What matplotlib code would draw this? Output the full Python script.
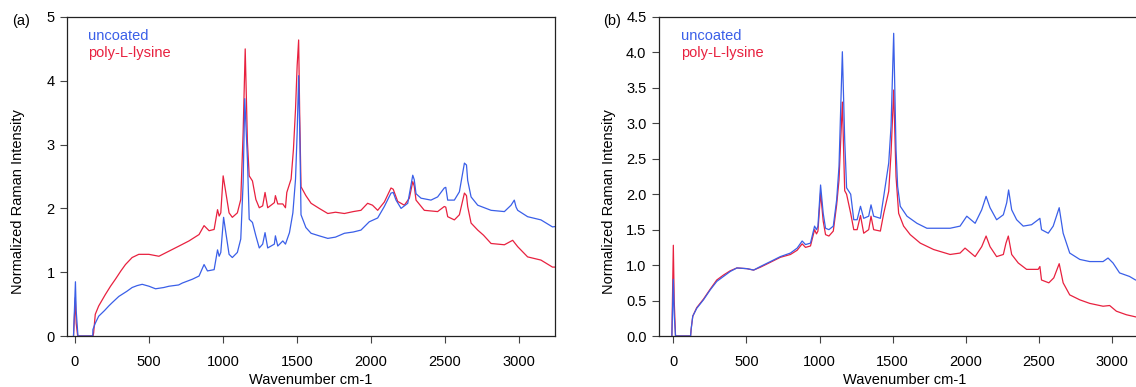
import matplotlib
matplotlib.use("Agg")
import matplotlib.pyplot as plt
import numpy as np

plt.rcParams['font.family'] = ['Liberation Sans', 'DejaVu Sans']
plt.rcParams['font.size'] = 10

BLUE = '#3a5fe8'
RED = '#e8213f'

# (wavenumber, normalized intensity), panel (a)
a_uncoated = [
    (-10, 0), (3, 0.85), (8, 0.4), (20, 0), (120, 0), (121, 0.1), (137, 0.2),
    (160, 0.31), (200, 0.4), (228, 0.47), (250, 0.52), (296, 0.62), (350, 0.7),
    (386, 0.76), (420, 0.79), (454, 0.81), (500, 0.78), (544, 0.74), (600, 0.76),
    (635, 0.78), (700, 0.8), (725, 0.83), (793, 0.89), (838, 0.94), (872, 1.12),
    (895, 1.02), (940, 1.04), (963, 1.35), (974, 1.25), (985, 1.31), (1004, 1.86),
    (1019, 1.62), (1041, 1.28), (1063, 1.23), (1097, 1.31), (1120, 1.52),
    (1136, 2.41), (1147, 3.72), (1165, 2.77), (1177, 1.83), (1199, 1.78),
    (1222, 1.57), (1245, 1.38), (1268, 1.44), (1284, 1.62), (1302, 1.38),
    (1347, 1.44), (1354, 1.57), (1370, 1.41), (1404, 1.49), (1422, 1.44),
    (1449, 1.62), (1472, 1.93), (1490, 2.46), (1501, 3.19), (1511, 4.08),
    (1520, 3.0), (1527, 1.9), (1560, 1.7), (1595, 1.61), (1650, 1.57),
    (1708, 1.53), (1760, 1.55), (1820, 1.61), (1880, 1.63), (1932, 1.66),
    (1988, 1.79), (2045, 1.85), (2090, 2.03), (2135, 2.24), (2150, 2.25),
    (2169, 2.13), (2203, 2.0), (2248, 2.08), (2282, 2.52), (2292, 2.45),
    (2304, 2.23), (2338, 2.16), (2405, 2.13), (2450, 2.18), (2495, 2.32),
    (2505, 2.33), (2518, 2.13), (2563, 2.13), (2597, 2.26), (2631, 2.71),
    (2645, 2.68), (2653, 2.44), (2676, 2.18), (2721, 2.05), (2811, 1.97),
    (2901, 1.95), (2946, 2.05), (2968, 2.13), (2980, 2.02), (2991, 1.97),
    (3058, 1.87), (3148, 1.82), (3226, 1.71), (3260, 1.72),
]

a_polylysine = [
    (-10, 0), (2, 0.6), (8, 0.2), (18, 0), (122, 0), (126, 0.05), (137, 0.34),
    (160, 0.47), (205, 0.65), (240, 0.78), (273, 0.89), (310, 1.02), (341, 1.12),
    (386, 1.23), (431, 1.28), (499, 1.28), (567, 1.25), (635, 1.33), (703, 1.41),
    (770, 1.49), (838, 1.59), (872, 1.73), (906, 1.65), (940, 1.67), (963, 1.98),
    (974, 1.88), (985, 1.93), (1001, 2.51), (1019, 2.25), (1041, 1.93),
    (1063, 1.86), (1097, 1.93), (1120, 2.14), (1136, 3.19), (1150, 4.5),
    (1165, 3.04), (1177, 2.51), (1199, 2.43), (1222, 2.14), (1245, 2.01),
    (1268, 2.04), (1284, 2.25), (1302, 2.01), (1347, 2.09), (1354, 2.2),
    (1370, 2.07), (1404, 2.07), (1422, 2.01), (1431, 2.25), (1460, 2.46),
    (1476, 2.93), (1490, 3.56), (1501, 4.24), (1511, 4.64), (1518, 3.5),
    (1527, 2.34), (1560, 2.2), (1595, 2.08), (1650, 2.0), (1708, 1.92),
    (1760, 1.94), (1820, 1.92), (1880, 1.95), (1932, 1.97), (1977, 2.08),
    (2010, 2.05), (2045, 1.97), (2090, 2.1), (2135, 2.32), (2150, 2.3),
    (2180, 2.11), (2225, 2.05), (2259, 2.16), (2282, 2.42), (2292, 2.35),
    (2304, 2.13), (2360, 1.97), (2450, 1.95), (2495, 2.03), (2505, 2.02),
    (2518, 1.87), (2563, 1.82), (2597, 1.9), (2631, 2.24), (2645, 2.2),
    (2653, 2.03), (2676, 1.77), (2721, 1.66), (2760, 1.58), (2811, 1.45),
    (2901, 1.43), (2957, 1.5), (2991, 1.4), (3058, 1.24), (3148, 1.19),
    (3226, 1.08), (3260, 1.08),
]

# panel (b)
b_uncoated = [
    (-10, 0), (0, 0.8), (6, 0.3), (15, 0), (118, 0), (122, 0.1), (133, 0.28),
    (160, 0.39), (206, 0.51), (252, 0.65), (297, 0.77), (343, 0.84), (389, 0.91),
    (435, 0.96), (503, 0.95), (549, 0.93), (595, 0.98), (664, 1.05), (732, 1.12),
    (801, 1.17), (847, 1.24), (881, 1.34), (904, 1.29), (938, 1.31), (966, 1.55),
    (979, 1.5), (989, 1.55), (1007, 2.13), (1025, 1.73), (1041, 1.52),
    (1064, 1.5), (1094, 1.55), (1117, 1.92), (1133, 2.39), (1156, 4.01),
    (1172, 2.77), (1185, 2.09), (1213, 2.0), (1234, 1.64), (1257, 1.64),
    (1280, 1.83), (1302, 1.66), (1336, 1.69), (1352, 1.85), (1370, 1.69),
    (1416, 1.66), (1439, 1.97), (1473, 2.44), (1489, 2.96), (1507, 4.27),
    (1523, 2.63), (1534, 2.11), (1552, 1.83), (1598, 1.69), (1666, 1.59),
    (1734, 1.52), (1802, 1.52), (1893, 1.52), (1961, 1.55), (2007, 1.69),
    (2064, 1.59), (2109, 1.78), (2139, 1.97), (2166, 1.81), (2211, 1.64),
    (2257, 1.71), (2280, 1.88), (2293, 2.06), (2314, 1.78), (2348, 1.64),
    (2393, 1.55), (2450, 1.57), (2495, 1.64), (2507, 1.66), (2518, 1.5),
    (2564, 1.45), (2598, 1.55), (2639, 1.81), (2666, 1.45), (2711, 1.17),
    (2780, 1.08), (2848, 1.05), (2939, 1.05), (2973, 1.1), (3007, 1.03),
    (3052, 0.89), (3120, 0.84), (3161, 0.79), (3200, 0.78),
]

b_polylysine = [
    (-10, 0), (0, 1.28), (6, 0.5), (15, 0), (118, 0), (122, 0.1), (133, 0.28),
    (160, 0.4), (206, 0.52), (252, 0.66), (297, 0.79), (343, 0.86), (389, 0.92),
    (435, 0.96), (503, 0.95), (549, 0.93), (595, 0.97), (664, 1.04), (732, 1.11),
    (801, 1.15), (847, 1.21), (881, 1.3), (904, 1.25), (938, 1.27), (966, 1.5),
    (979, 1.44), (989, 1.48), (1007, 2.02), (1025, 1.62), (1041, 1.43),
    (1064, 1.41), (1094, 1.48), (1117, 1.85), (1133, 2.2), (1156, 3.3),
    (1172, 2.05), (1185, 2.0), (1213, 1.73), (1234, 1.5), (1257, 1.5),
    (1280, 1.7), (1302, 1.45), (1336, 1.5), (1352, 1.69), (1370, 1.5),
    (1416, 1.48), (1439, 1.73), (1473, 2.04), (1489, 2.58), (1507, 3.47),
    (1523, 2.25), (1541, 1.73), (1575, 1.55), (1620, 1.43), (1689, 1.31),
    (1780, 1.22), (1893, 1.15), (1961, 1.17), (1995, 1.24), (2064, 1.12),
    (2109, 1.26), (2139, 1.41), (2166, 1.26), (2211, 1.12), (2257, 1.15),
    (2275, 1.31), (2291, 1.41), (2314, 1.15), (2359, 1.03), (2416, 0.94),
    (2495, 0.94), (2507, 0.98), (2518, 0.79), (2568, 0.75), (2602, 0.82),
    (2639, 1.02), (2666, 0.75), (2711, 0.58), (2780, 0.51), (2848, 0.46),
    (2939, 0.42), (2984, 0.43), (3030, 0.35), (3098, 0.3), (3161, 0.27),
    (3200, 0.26),
]

x_ticks = [0, 500, 1000, 1500, 2000, 2500, 3000]
a_yticks = [0, 1, 2, 3, 4, 5]
b_yticks = [0.0, 0.5, 1.0, 1.5, 2.0, 2.5, 3.0, 3.5, 4.0, 4.5]

W, H = 1136, 387


def make_axes(fig, left, right, top, bottom):
    """Axes placed in pixel coordinates of the figure."""
    return fig.add_axes([left / W, 1 - bottom / H, (right - left) / W, (bottom - top) / H])


def draw_panel(ax, uncoated, polylysine, xlim, ylim, yticks, yfmt, tag):
    """Draw one spectrum panel in the R base-graphics look."""
    xr, yr = np.array(polylysine).T
    xb, yb = np.array(uncoated).T
    ax.plot(xr, yr, color=RED, lw=0.9)
    ax.plot(xb, yb, color=BLUE, lw=0.9)

    ax.set_xlim(*xlim)
    ax.set_ylim(*ylim)
    ax.set_xticks(x_ticks)
    ax.set_yticks(yticks)
    ax.set_yticklabels([yfmt.format(v) for v in yticks])
    ax.tick_params(direction='out', length=5, width=0.8, color='#444444', labelsize=10.5)
    ax.tick_params(axis='x', pad=8.5)
    ax.tick_params(axis='y', pad=4)
    for s in ax.spines.values():
        s.set_linewidth(0.9)
        s.set_color('#222222')

    ax.set_xlabel('Wavenumber cm-1', fontsize=10.5)
    ax.xaxis.set_label_coords(0.5, -0.115)
    ax.set_ylabel('Normalized Raman Intensity', fontsize=10.5)
    ax.yaxis.set_label_coords(-0.087, 0.423)

    ax.text(0.044, 0.94, 'uncoated', color=BLUE, transform=ax.transAxes,
            ha='left', va='center', fontsize=10.5)
    ax.text(0.044, 0.888, 'poly-L-lysine', color=RED, transform=ax.transAxes,
            ha='left', va='center', fontsize=10.5)
    ax.text(-0.095, 0.987, tag, transform=ax.transAxes, ha='center', va='center', fontsize=10.5)


fig = plt.figure(figsize=(W / 100, H / 100), dpi=100)

ax_a = make_axes(fig, 67, 555, 17, 336)
draw_panel(ax_a, a_uncoated, a_polylysine, (-54, 3243), (0, 5), a_yticks, '{:.0f}', '(a)')

ax_b = make_axes(fig, 659, 1150, 17, 336)
draw_panel(ax_b, b_uncoated, b_polylysine, (-98, 3260), (0, 4.5), b_yticks, '{:.1f}', '(b)')

fig.savefig('out.png', dpi=100)
